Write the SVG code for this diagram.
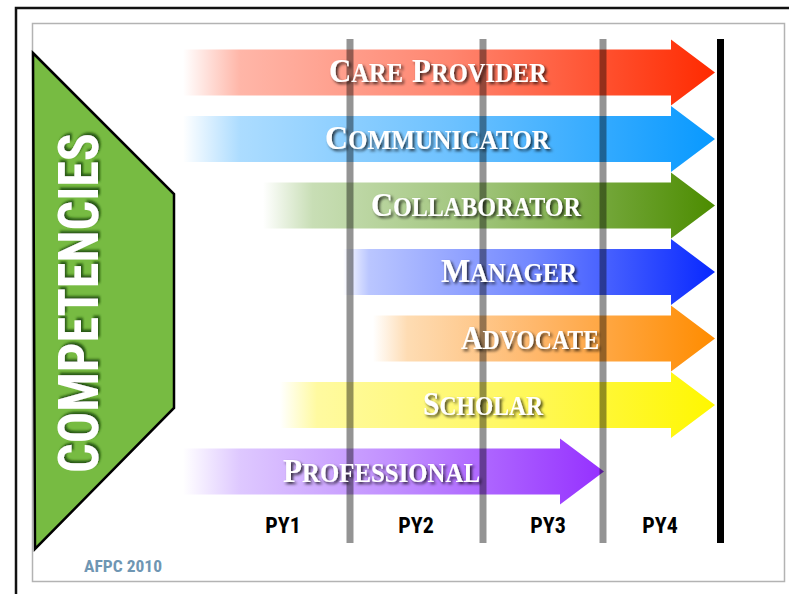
<svg xmlns="http://www.w3.org/2000/svg" width="789" height="594" viewBox="0 0 789 594">
<style>
.lbl{font-family:"Liberation Serif","DejaVu Serif",serif;font-weight:bold;font-size:39px;font-variant:small-caps;fill:#ffffff;filter:url(#sh)}
.cap{font-size:34px}
.py{font-family:"Liberation Sans Narrow","Roboto Condensed","Liberation Sans",sans-serif;font-weight:bold;font-size:22px;fill:#000;text-anchor:middle}
.grid{stroke:#000;stroke-opacity:0.42;stroke-width:7}
</style>
<defs>
<filter id="sh" x="-10%" y="-30%" width="120%" height="160%">
<feDropShadow dx="2" dy="2" stdDeviation="1.6" flood-color="#000" flood-opacity="0.75"/>
</filter>
<filter id="gsh" x="-20%" y="-10%" width="140%" height="120%">
<feDropShadow dx="2.5" dy="2" stdDeviation="1" flood-color="#1f4d10" flood-opacity="0.9"/>
</filter>
<linearGradient id="g1" gradientUnits="userSpaceOnUse" x1="183" y1="0" x2="715" y2="0">
<stop offset="0" stop-color="#ffb6a8" stop-opacity="0"/><stop offset="0.107" stop-color="#ffb6a8"/><stop offset="0.5" stop-color="#ff8670"/><stop offset="1" stop-color="#ff2a00"/></linearGradient>
<linearGradient id="g2" gradientUnits="userSpaceOnUse" x1="183" y1="0" x2="715" y2="0">
<stop offset="0" stop-color="#acdcff" stop-opacity="0"/><stop offset="0.107" stop-color="#acdcff"/><stop offset="0.5" stop-color="#6ec2ff"/><stop offset="1" stop-color="#0899ff"/></linearGradient>
<linearGradient id="g3" gradientUnits="userSpaceOnUse" x1="263" y1="0" x2="715" y2="0">
<stop offset="0" stop-color="#c8deb5" stop-opacity="0"/><stop offset="0.11" stop-color="#c8deb5"/><stop offset="0.5" stop-color="#9cc275"/><stop offset="1" stop-color="#4c8c00"/></linearGradient>
<linearGradient id="g4" gradientUnits="userSpaceOnUse" x1="343" y1="0" x2="715" y2="0">
<stop offset="0" stop-color="#bac6ff" stop-opacity="0"/><stop offset="0.07" stop-color="#bac6ff"/><stop offset="0.5" stop-color="#7388ff"/><stop offset="1" stop-color="#0828ff"/></linearGradient>
<linearGradient id="g5" gradientUnits="userSpaceOnUse" x1="373" y1="0" x2="715" y2="0">
<stop offset="0" stop-color="#fedcb3" stop-opacity="0"/><stop offset="0.1" stop-color="#fedcb3"/><stop offset="0.5" stop-color="#ffb566"/><stop offset="1" stop-color="#ff8c00"/></linearGradient>
<linearGradient id="g6" gradientUnits="userSpaceOnUse" x1="280" y1="0" x2="715" y2="0">
<stop offset="0" stop-color="#fffaa0" stop-opacity="0"/><stop offset="0.085" stop-color="#fffaa0"/><stop offset="0.5" stop-color="#fff866"/><stop offset="1" stop-color="#fff700"/></linearGradient>
<linearGradient id="g7" gradientUnits="userSpaceOnUse" x1="183" y1="0" x2="604" y2="0">
<stop offset="0" stop-color="#dec8ff" stop-opacity="0"/><stop offset="0.135" stop-color="#dec8ff"/><stop offset="0.5" stop-color="#c18fff"/><stop offset="1" stop-color="#9530ff"/></linearGradient>
</defs>
<rect width="789" height="594" fill="#fff"/>
<rect x="16" y="8" width="800" height="620" fill="none" stroke="#111" stroke-width="2.5"/>
<rect x="32.5" y="23.5" width="752" height="558" fill="none" stroke="#b3b3b3" stroke-width="1.5"/>

<g id="competencies">
<polygon points="33,53 174,194 174,408 35,549" fill="#77bb42" stroke="#000" stroke-width="2.5" stroke-linejoin="miter"/>
<text transform="translate(98,473) rotate(-90)" x="0" y="0" textLength="340" lengthAdjust="spacingAndGlyphs" font-family="'Liberation Sans Narrow','Roboto Condensed','Liberation Sans',sans-serif" font-weight="bold" font-size="55" fill="#fff" filter="url(#gsh)">COMPETENCIES</text>
</g>

<g id="arrows">
<path id="arrow-care" d="M183,49.5H671V39.5L715,72.5L671,105.5V95.5H183Z" fill="url(#g1)"/>
<path id="arrow-comm" d="M183,116H671V106L715,139L671,172V162H183Z" fill="url(#g2)"/>
<path id="arrow-collab" d="M263,182.5H671V172.5L715,205.5L671,238.5V228.5H263Z" fill="url(#g3)"/>
<path id="arrow-manager" d="M343,249H671V239L715,272L671,305V295H343Z" fill="url(#g4)"/>
<path id="arrow-advocate" d="M373,315.5H671V305.5L715,338.5L671,371.5V361.5H373Z" fill="url(#g5)"/>
<path id="arrow-scholar" d="M280,382H671V372L715,405L671,438V428H280Z" fill="url(#g6)"/>
<path id="arrow-prof" d="M183,448.5H560V438.5L604,471.5L560,504.5V494.5H183Z" fill="url(#g7)"/>
</g>

<g id="connectors">
<line class="grid" x1="350" y1="39" x2="350" y2="543"/>
<line class="grid" x1="483" y1="39" x2="483" y2="543"/>
<line class="grid" x1="603" y1="39" x2="603" y2="543"/>
<line x1="720.5" y1="39" x2="720.5" y2="543" stroke="#000" stroke-width="7"/>
</g>

<g id="labels">
<text class="lbl" x="329" y="82" textLength="218" lengthAdjust="spacingAndGlyphs"><tspan class="cap">C</tspan>are <tspan class="cap">P</tspan>rovider</text>
<text class="lbl" x="325" y="149" textLength="225" lengthAdjust="spacingAndGlyphs"><tspan class="cap">C</tspan>ommunicator</text>
<text class="lbl" x="371" y="215.5" textLength="210" lengthAdjust="spacingAndGlyphs"><tspan class="cap">C</tspan>ollaborator</text>
<text class="lbl" x="441" y="282" textLength="136" lengthAdjust="spacingAndGlyphs"><tspan class="cap">M</tspan>anager</text>
<text class="lbl" x="461" y="348.5" textLength="138" lengthAdjust="spacingAndGlyphs"><tspan class="cap">A</tspan>dvocate</text>
<text class="lbl" x="423" y="415" textLength="120" lengthAdjust="spacingAndGlyphs"><tspan class="cap">S</tspan>cholar</text>
<text class="lbl" x="283" y="481.5" textLength="197" lengthAdjust="spacingAndGlyphs"><tspan class="cap">P</tspan>rofessional</text>
</g>

<g id="years">
<text class="py" x="283" y="533">PY1</text>
<text class="py" x="416" y="533">PY2</text>
<text class="py" x="548" y="533">PY3</text>
<text class="py" x="660" y="533">PY4</text>
</g>
<text id="credit" x="84" y="572" textLength="78" lengthAdjust="spacingAndGlyphs" font-family="'Liberation Sans Narrow','Roboto Condensed','Liberation Sans',sans-serif" font-weight="bold" font-size="17" fill="#6f96b3">AFPC 2010</text>
</svg>
